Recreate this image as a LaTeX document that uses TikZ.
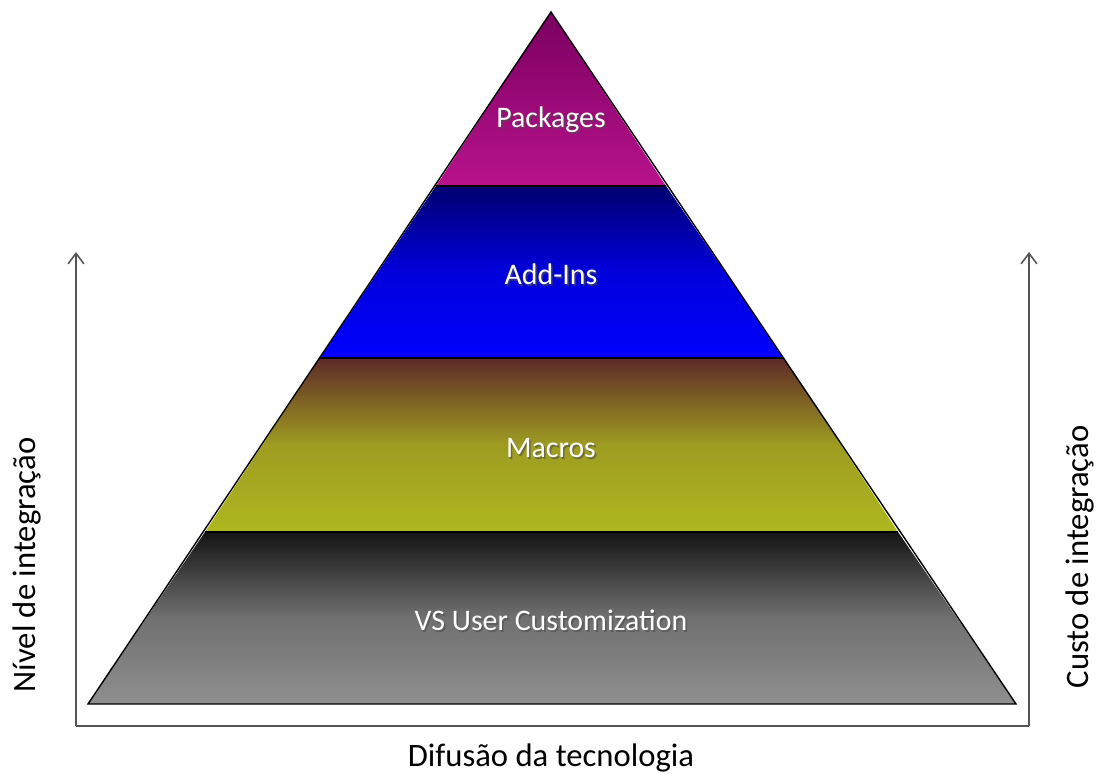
\documentclass[tikz,border=0pt]{standalone}
\usepackage{fontspec}
\setmainfont{Carlito}
\usetikzlibrary{positioning,arrows.meta}

\definecolor{pkgtop}{HTML}{7A0060}
\definecolor{pkgbot}{HTML}{B8128C}
\definecolor{addtop}{HTML}{000070}
\definecolor{addbot}{HTML}{0000FF}
\definecolor{mactop}{HTML}{5E2A28}
\definecolor{macbot}{HTML}{AEB81F}
\definecolor{vstop}{HTML}{141414}
\definecolor{vsbot}{HTML}{8F8F8F}
\definecolor{axisgray}{HTML}{555555}

\tikzset{
  layer/.style={draw=black, line width=0.8pt},
  lbl/.style={text=white, font=\fontsize{17}{20}\selectfont},
  lblshadow/.style={text=black!70, opacity=0.6, xshift=0.9pt, yshift=-1.1pt, font=\fontsize{17}{20}\selectfont},
  axislbl/.style={text=black, font=\fontsize{18.6}{22}\selectfont},
  axis/.style={draw=axisgray, line width=0.9pt},
  tip/.style={-{Straight Barb[length=6pt,width=9pt]}}
}

\begin{document}
\begin{tikzpicture}[x=0.02cm, y=-0.02cm]
\useasboundingbox (0,0) rectangle (1100,774);

% corners of the layers
\coordinate (apex) at (551,12);
\coordinate (l1) at (436,186);  \coordinate (r1) at (666,186);
\coordinate (l2) at (320,358);  \coordinate (r2) at (784,358);
\coordinate (l3) at (205,532);  \coordinate (r3) at (898,532);
\coordinate (l4) at (88,704);   \coordinate (r4) at (1016,704);

% layers
\shade[top color=pkgtop, bottom color=pkgbot] (apex) -- (r1) -- (l1) -- cycle;
\shade[top color=addtop, bottom color=addbot, middle color=addbot!75!addtop] (l1) -- (r1) -- (r2) -- (l2) -- cycle;
\shade[top color=mactop, bottom color=macbot, middle color=macbot!80!mactop] (l2) -- (r2) -- (r3) -- (l3) -- cycle;
\shade[top color=vstop, bottom color=vsbot, middle color=vsbot!75!vstop] (l3) -- (r3) -- (r4) -- (l4) -- cycle;
\draw[layer] (apex) -- (r4) -- (l4) -- cycle;
\foreach \a/\b in {l1/r1, l2/r2, l3/r3}
\draw[layer] (\a) -- (\b);

% labels
\foreach \pos/\name/\disp in {{(551,120)/pkg/Packages}, {(551,274)/add/Add-Ins}, {(551,448)/mac/Macros}, {(551,620)/vs/VS User Customization}}
{
\node[lblshadow] at \pos {\disp};
\node[lbl] (\name) at \pos {\disp};
}

% axes
\coordinate (ltop) at (76,252);
\coordinate (lbot) at (76,726);
\coordinate (rbot) at (1029,726);
\coordinate (rtop) at (1029,252);
\draw[axis, tip] (lbot) -- (ltop);
\draw[axis, tip] (rbot) -- (rtop);
\draw[axis] (lbot) -- (rbot);

\node[axislbl, rotate=90] (nivel) at (27,565) {Nível de integração};
\node[axislbl, rotate=90] (custo) at (1080,557) {Custo de integração};
\node[axislbl] (difusao) at (551,758) {Difusão da tecnologia};

\end{tikzpicture}
\end{document}
